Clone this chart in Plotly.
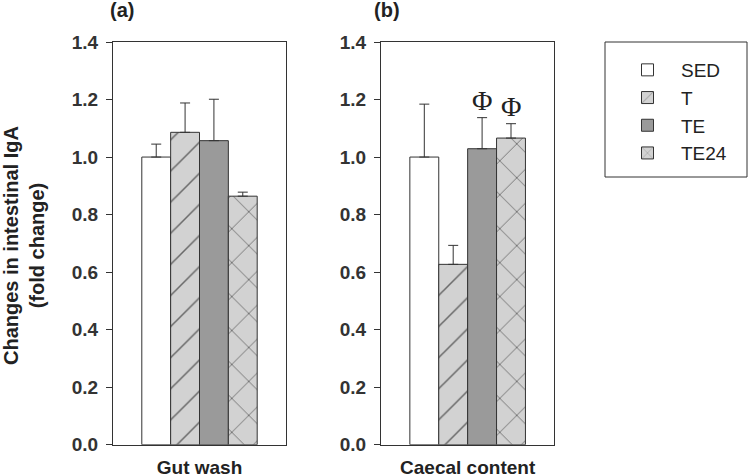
import plotly.graph_objects as go

# ---- data ----
groups = ["SED", "T", "TE", "TE24"]
panels = ["Gut wash", "Caecal content"]
gut_vals = [1.00, 1.086, 1.057, 0.864]
gut_err = [0.045, 0.102, 0.144, 0.014]
caecal_vals = [1.00, 0.627, 1.029, 1.066]
caecal_err = [0.184, 0.066, 0.108, 0.050]
caecal_sig = ["", "", "Φ", "Φ"]
y_ticks = [0.0, 0.2, 0.4, 0.6, 0.8, 1.0, 1.2, 1.4]

# ---- styles ----
W, H = 749, 476
fills = ["#ffffff", "#d2d2d2", "#9a9a9a", "#d2d2d2"]
patterns = ["", "/", "", "x"]
edge = "#333333"
txt = "#222222"
bargap = 0.333

fig = go.Figure()
for panel_idx, (vals, errs) in enumerate([(gut_vals, gut_err), (caecal_vals, caecal_err)]):
    xa = "x" if panel_idx == 0 else "x2"
    ya = "y" if panel_idx == 0 else "y2"
    for i, g in enumerate(groups):
        fig.add_trace(go.Bar(
            x=[panels[panel_idx]], y=[vals[i]], name=g,
            xaxis=xa, yaxis=ya,
            legendgroup=g, showlegend=(panel_idx == 0),
            marker=dict(color=fills[i], line=dict(color=edge, width=1),
                        pattern=dict(shape=patterns[i], fgcolor="#000000", bgcolor=fills[i],
                                     size=22 if patterns[i] == "/" else 24,
                                     solidity=0.07, fillmode="overlay")),
            error_y=dict(type="data", symmetric=False, array=[errs[i]], arrayminus=[0],
                         color=edge, thickness=1, width=5),
        ))

# significance markers over the caecal error bars
step = (1 - bargap) / len(groups)
for i, s in enumerate(caecal_sig):
    if s:
        fig.add_annotation(xref="x2", yref="y2", x=-(1 - bargap) / 2 + (i + 0.5) * step,
                           y=caecal_vals[i] + caecal_err[i], text=s, showarrow=False,
                           xanchor="center", yanchor="bottom", yshift=0,
                           font=dict(family="Liberation Serif, Times New Roman, serif", size=28, color=txt))

axis_common = dict(showline=True, linecolor=edge, linewidth=1, mirror=True, showgrid=False,
                   zeroline=False, automargin=False)
yax = dict(axis_common, range=[0, 1.4], tickvals=y_ticks,
           ticktext=["<b>%.1f</b>" % v for v in y_ticks], ticks="outside", ticklen=6,
           tickcolor=edge, tickfont=dict(family="Liberation Sans, Arial", size=19, color="#333333"),
           domain=[1 - 444.7 / H, 1 - 42 / H], ticklabelstandoff=4)
xax = dict(axis_common, ticks="", tickfont=dict(family="Liberation Sans, Arial", size=19, color=txt),
           ticklabelstandoff=5)

fig.update_layout(
    width=W, height=H, margin=dict(l=0, r=0, t=0, b=0, autoexpand=False),
    paper_bgcolor="white", plot_bgcolor="white",
    barmode="group", bargap=bargap, bargroupgap=0,
    xaxis=dict(xax, domain=[113 / W, 286 / W], anchor="y",
               tickvals=[panels[0]], ticktext=["<b>" + panels[0] + "</b>"]),
    xaxis2=dict(xax, domain=[381 / W, 554.3 / W], anchor="y2",
                tickvals=[panels[1]], ticktext=["<b>" + panels[1] + "</b>"]),
    yaxis=dict(yax, anchor="x"),
    yaxis2=dict(yax, anchor="x2"),
    legend=dict(x=614 / W, y=1 - 51 / H, xanchor="left", yanchor="top", bgcolor="rgba(0,0,0,0)",
                borderwidth=0, itemwidth=57, traceorder="grouped", tracegroupgap=0,
                font=dict(family="Liberation Sans, Arial", size=19, color=txt)),
    font=dict(family="Liberation Sans, Arial", color=txt),
    shapes=[dict(type="rect", xref="paper", yref="paper", x0=605 / W, x1=747 / W,
                 y0=1 - 177 / H, y1=1 - 42 / H, line=dict(color=edge, width=1))],
)
fig.add_annotation(xref="paper", yref="paper", x=24 / W, y=1 - 246 / H,
                   xanchor="center", yanchor="middle",
                   text="<b>Changes in intestinal IgA<br>(fold change)</b>",
                   textangle=-90, showarrow=False, font=dict(size=20, color=txt))
fig.add_annotation(xref="paper", yref="paper", x=122 / W, y=1 - 10 / H, text="<b>(a)</b>",
                   xanchor="center", yanchor="middle",
                   showarrow=False, font=dict(size=20, color=txt))
fig.add_annotation(xref="paper", yref="paper", x=387 / W, y=1 - 10 / H, text="<b>(b)</b>",
                   xanchor="center", yanchor="middle",
                   showarrow=False, font=dict(size=20, color=txt))

fig.write_html("out.html", config={"displayModeBar": False},
               post_script="document.body.style.margin='0';document.body.style.overflow='hidden';")
